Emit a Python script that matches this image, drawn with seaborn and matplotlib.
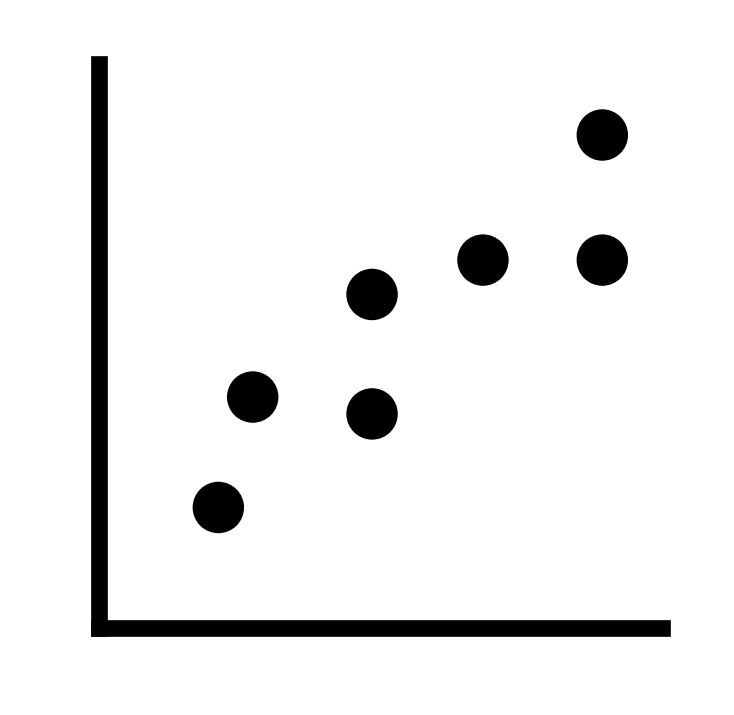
import pandas as pd
import matplotlib
matplotlib.use("Agg")
import matplotlib.pyplot as plt
import seaborn as sns

# puntos del diagrama (unidades arbitrarias 0-10)
x_vals = [2.12, 2.73, 4.85, 4.85, 6.82, 8.94, 8.94]
y_vals = [2.13, 4.09, 5.91, 3.79, 6.52, 6.52, 8.74]

df = pd.DataFrame({"x": x_vals, "y": y_vals})

sns.set_style("white")

fig = plt.figure(figsize=(7.34, 7.15), dpi=100)
ax = fig.add_axes([99 / 734, 87.5 / 715, 563 / 734, 563.5 / 715])

sns.scatterplot(data=df, x="x", y="y", ax=ax, s=1372, color="black",
                edgecolor="none", legend=False, clip_on=False)

ax.set_xlim(0, 10)
ax.set_ylim(0, 10)
ax.set_xticks([])
ax.set_yticks([])
ax.set_xlabel("")
ax.set_ylabel("")

# solo ejes izquierdo e inferior, muy gruesos
for side in ["top", "right"]:
    ax.spines[side].set_visible(False)
for side in ["left", "bottom"]:
    ax.spines[side].set_color("black")
    ax.spines[side].set_linewidth(12)
    ax.spines[side].set_capstyle("projecting")

fig.savefig("out.png", dpi=100, facecolor="white")
